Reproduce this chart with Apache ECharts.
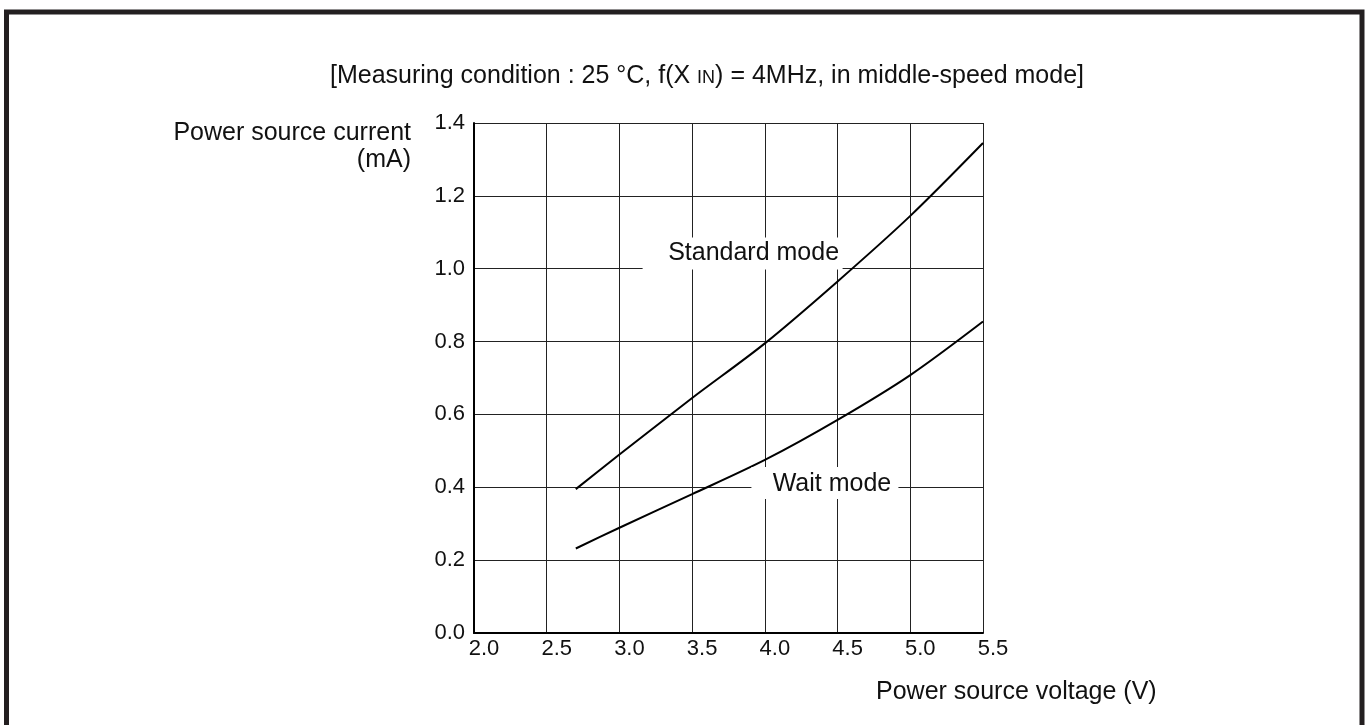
<!DOCTYPE html>
<html>
<head>
<meta charset="utf-8">
<script src="https://cdn.jsdelivr.net/npm/echarts@6/dist/echarts.min.js"></script>
<style>
  html, body { margin: 0; padding: 0; background: #fff; }
  #chart { width: 1370px; height: 725px; }
</style>
</head>
<body>
<div id="chart"></div>
<script>
// Supply voltage (V) sample points for each curve
const standardVoltage = [2.7, 3.0, 3.5, 4.0, 4.5, 5.0, 5.5];
const standardCurrent = [0.395, 0.49, 0.645, 0.795, 0.965, 1.145, 1.345];

const waitVoltage = [2.7, 3.0, 3.5, 4.0, 4.5, 5.0, 5.5];
const waitCurrent = [0.232, 0.289, 0.381, 0.475, 0.585, 0.708, 0.855];

const xTicks = [2.0, 2.5, 3.0, 3.5, 4.0, 4.5, 5.0, 5.5];
const yTicks = [0.0, 0.2, 0.4, 0.6, 0.8, 1.0, 1.2, 1.4];

const seriesNames = ['Standard mode', 'Wait mode'];

const FONT = '"Liberation Sans", Arial, Helvetica, sans-serif';
const INK = '#111';

const pairs = (xs, ys) => xs.map((x, i) => [x, ys[i]]);

const chart = echarts.init(document.getElementById('chart'), null, { renderer: 'canvas' });

chart.setOption({
  animation: false,
  backgroundColor: '#fff',
  textStyle: { fontFamily: FONT, color: INK },
  grid: { left: 474, right: 387, top: 123, bottom: 92, containLabel: false },
  xAxis: {
    type: 'value',
    min: xTicks[0],
    max: xTicks[xTicks.length - 1],
    interval: 0.5,
    axisLine: { show: true, lineStyle: { color: '#000', width: 2 } },
    axisTick: { show: false },
    axisLabel: {
      color: INK, fontSize: 22, fontFamily: FONT, margin: 5,
      padding: [0, 0, 0, 20],
      formatter: v => v.toFixed(1)
    },
    splitLine: { show: true, lineStyle: { color: '#222', width: 1 } }
  },
  yAxis: {
    type: 'value',
    min: yTicks[0],
    max: yTicks[yTicks.length - 1],
    interval: 0.2,
    axisLine: { show: true, lineStyle: { color: '#000', width: 2 } },
    axisTick: { show: false },
    axisLabel: {
      color: INK, fontSize: 22, fontFamily: FONT, margin: 9,
      padding: [4, 0, 0, 0],
      formatter: v => v.toFixed(1)
    },
    splitLine: { show: true, lineStyle: { color: '#222', width: 1 } }
  },
  graphic: [
    {
      type: 'rect',
      shape: { x: 6.5, y: 12, width: 1355.5, height: 800 },
      style: { fill: 'none', stroke: '#231f20', lineWidth: 5 },
      silent: true
    },
    {
      type: 'text',
      left: 330,
      top: 64,
      style: {
        text: '{a|[Measuring condition : 25 °C, f(X }{s|IN}{a|) = 4MHz, in middle-speed mode]}',
        rich: {
          a: { fontSize: 25, fontFamily: FONT, fill: INK, color: INK },
          s: { fontSize: 18, fontFamily: FONT, fill: INK, color: INK, padding: [4, 0, 0, 0] }
        }
      }
    },
    {
      type: 'text',
      right: 1370 - 411,
      top: 121,
      style: {
        text: 'Power source current',
        fontSize: 25, fontFamily: FONT, fill: INK
      }
    },
    {
      type: 'text',
      right: 1370 - 411,
      top: 148,
      style: {
        text: '(mA)',
        fontSize: 25, fontFamily: FONT, fill: INK
      }
    },
    {
      type: 'text',
      left: 876,
      top: 680,
      style: {
        text: 'Power source voltage (V)',
        fontSize: 25, fontFamily: FONT, fill: INK
      }
    }
  ],
  series: [
    {
      name: seriesNames[0],
      type: 'line',
      smooth: 0.3,
      showSymbol: false,
      data: pairs(standardVoltage, standardCurrent),
      lineStyle: { color: '#000', width: 2 },
      z: 3,
      markPoint: {
        silent: true,
        symbol: 'rect',
        symbolSize: [200, 32],
        itemStyle: { color: '#fff' },
        label: {
          show: true, color: INK, fontSize: 25, fontFamily: FONT,
          offset: [11, 0], formatter: p => p.name
        },
        data: [{ name: seriesNames[0], coord: [3.847, 1.0415] }]
      }
    },
    {
      name: seriesNames[1],
      type: 'line',
      smooth: 0.3,
      showSymbol: false,
      data: pairs(waitVoltage, waitCurrent),
      lineStyle: { color: '#000', width: 2 },
      z: 3,
      markPoint: {
        silent: true,
        symbol: 'rect',
        symbolSize: [147, 32],
        itemStyle: { color: '#fff' },
        label: {
          show: true, color: INK, fontSize: 25, fontFamily: FONT,
          offset: [7, 1], formatter: p => p.name
        },
        data: [{ name: seriesNames[1], coord: [4.413, 0.412] }]
      }
    }
  ]
});
</script>
</body>
</html>
